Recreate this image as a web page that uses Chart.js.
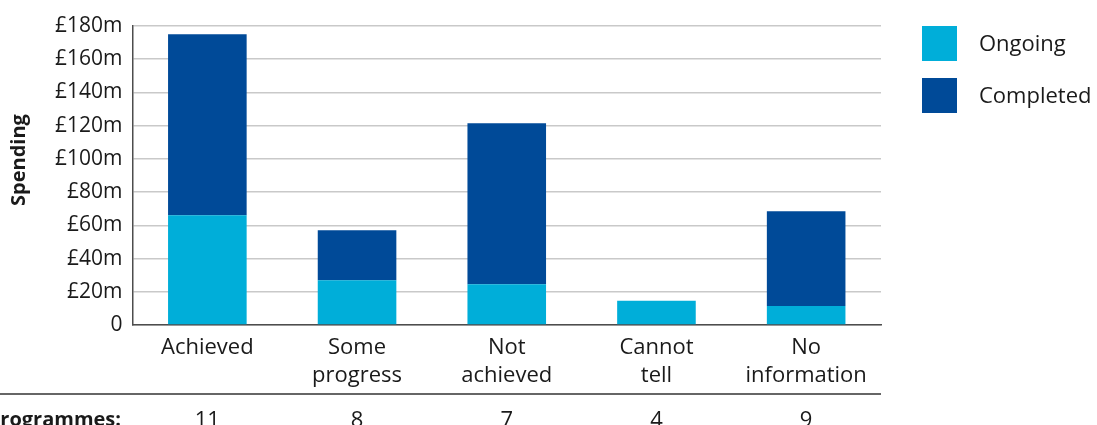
<!DOCTYPE html>
<html>
<head>
<meta charset="utf-8">
<script src="https://cdn.jsdelivr.net/npm/chart.js@4"></script>
<style>
  html, body { margin: 0; padding: 0; background: #fff; }
  #wrap { position: relative; width: 1097px; height: 425px; overflow: hidden; }
</style>
</head>
<body>
<div id="wrap"><canvas id="spendChart" width="1097" height="425"></canvas></div>
<script>
// chart data
const categories = [['Achieved'], ['Some', 'progress'], ['Not', 'achieved'], ['Cannot', 'tell'], ['No', 'information']];
const ongoing = [66, 27, 24.5, 14.6, 11.5];
const completed = [109, 30, 97, 0, 57];
const programmes = [11, 8, 7, 4, 9];
const yTicks = [0, 20, 40, 60, 80, 100, 120, 140, 160, 180];

const FONT = '"Open Sans", sans-serif';
const TEXT = '#1a1a1a';
const AXIS = '#4d4d4d';
const GRID = '#c9c9c9';

// draws the axis title, legend squares and the programmes row under the axis
const extrasPlugin = {
    id: 'extras',
    afterDraw(chart) {
        const ctx = chart.ctx;
        const x = chart.scales.x;
        ctx.save();

        // y axis title
        ctx.save();
        ctx.translate(19, 160);
        ctx.rotate(-Math.PI / 2);
        ctx.fillStyle = TEXT;
        ctx.font = 'bold 20px ' + FONT;
        ctx.textAlign = 'center';
        ctx.textBaseline = 'middle';
        ctx.fillText('Spending', 0, 0);
        ctx.restore();

        // legend
        chart.data.datasets.forEach(function(ds, i) {
            const top = 26 + i * 52;
            ctx.fillStyle = ds.backgroundColor;
            ctx.fillRect(922, top, 35, 35);
            ctx.fillStyle = TEXT;
            ctx.font = '22px ' + FONT;
            ctx.textAlign = 'left';
            ctx.textBaseline = 'middle';
            ctx.fillText(ds.label, 979, top + 19);
        });

        // programmes row
        ctx.strokeStyle = '#333';
        ctx.lineWidth = 1.5;
        ctx.beginPath();
        ctx.moveTo(0, 394);
        ctx.lineTo(x.right, 394);
        ctx.stroke();

        ctx.fillStyle = TEXT;
        ctx.textBaseline = 'alphabetic';
        ctx.font = 'bold 20px ' + FONT;
        ctx.textAlign = 'right';
        ctx.fillText('Programmes:', 121, 426);
        ctx.font = '22px ' + FONT;
        ctx.textAlign = 'center';
        programmes.forEach(function(n, i) {
            ctx.fillText(String(n), x.getPixelForValue(i), 427);
        });
        ctx.restore();
    }
};

document.addEventListener('DOMContentLoaded', function() {
    const ctx = document.getElementById('spendChart');
    new Chart(ctx, {
        type: 'bar',
        data: {
            labels: categories,
            datasets: [{
                label: 'Ongoing',
                data: ongoing,
                backgroundColor: '#00aed9',
                borderWidth: 0
            }, {
                label: 'Completed',
                data: completed,
                backgroundColor: '#004a98',
                borderWidth: 0
            }]
        },
        options: {
            responsive: false,
            animation: false,
            layout: { padding: { left: 0, right: 216, top: 26, bottom: 0 } },
            datasets: { bar: { categoryPercentage: 1, barPercentage: 0.525 } },
            plugins: {
                legend: { display: false },
                tooltip: { enabled: false }
            },
            scales: {
                x: {
                    stacked: true,
                    grid: { display: false, drawTicks: false },
                    border: { display: true, color: AXIS, width: 1.5 },
                    ticks: {
                        color: TEXT,
                        font: { family: FONT, size: 22, lineHeight: 1.27 },
                        padding: 9,
                        maxRotation: 0,
                        autoSkip: false
                    },
                    afterFit: function(scale) { scale.height = 100; }
                },
                y: {
                    stacked: true,
                    min: 0,
                    max: 180,
                    afterBuildTicks: function(scale) {
                        scale.ticks = yTicks.map(function(v) { return { value: v }; });
                    },
                    grid: { color: GRID, lineWidth: 1.5, drawTicks: false },
                    border: { display: true, color: AXIS, width: 1.5 },
                    ticks: {
                        color: TEXT,
                        font: { family: FONT, size: 21 },
                        padding: 10,
                        callback: function(v) { return v === 0 ? '0' : '£' + v + 'm'; }
                    },
                    afterFit: function(scale) { scale.width = 132.5; }
                }
            }
        },
        plugins: [extrasPlugin]
    });
});
</script>
</body>
</html>
